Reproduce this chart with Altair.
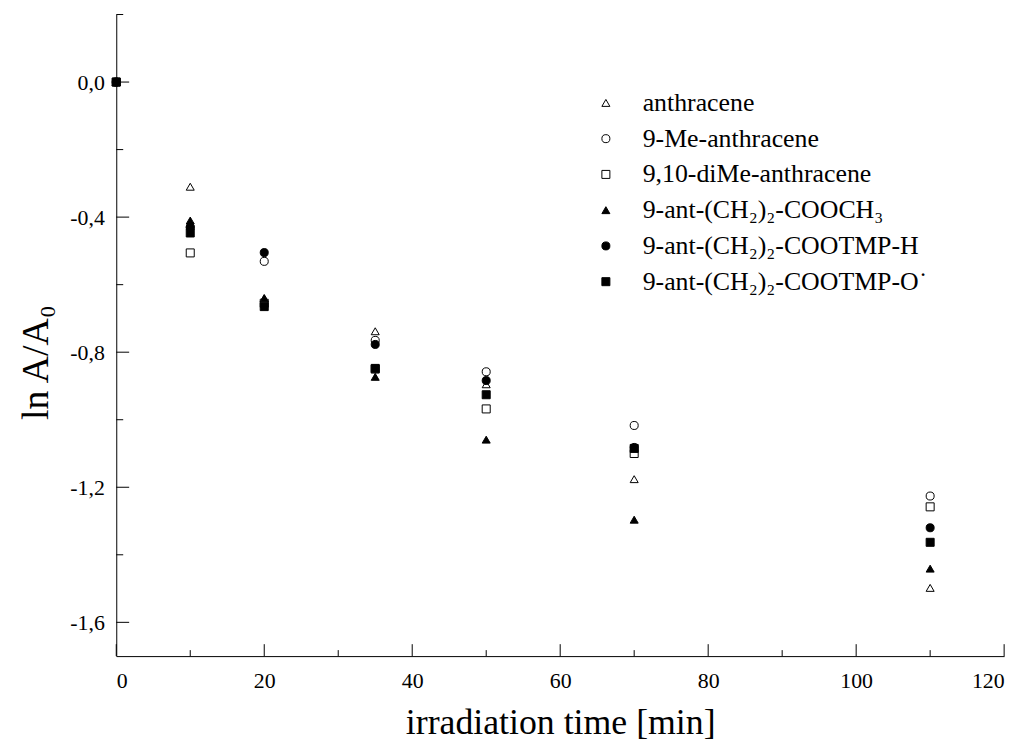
import altair as alt
import pandas as pd

times = [0, 10, 20, 35, 50, 70, 110]
compounds = [
    "anthracene",
    "9-Me-anthracene",
    "9,10-diMe-anthracene",
    "9-ant-(CH\u2082)\u2082-COOCH\u2083",
    "9-ant-(CH\u2082)\u2082-COOTMP-H",
    "9-ant-(CH\u2082)\u2082-COOTMP-O\u02d9",
]
anthracene = [0.0, -0.31, -0.64, -0.738, -0.895, -1.176, -1.498]
me_anthracene = [0.0, -0.43, -0.531, -0.765, -0.858, -1.017, -1.226]
dime_anthracene = [0.0, -0.506, -0.655, -0.85, -0.968, -1.1, -1.258]
cooch3 = [0.0, -0.41, -0.64, -0.873, -1.059, -1.296, -1.441]
cootmp_h = [0.0, -0.43, -0.505, -0.777, -0.884, -1.082, -1.32]
cootmp_o = [0.0, -0.447, -0.665, -0.848, -0.926, -1.085, -1.363]
series = [anthracene, me_anthracene, dime_anthracene, cooch3, cootmp_h, cootmp_o]

shapes = ["triangle-up", "circle", "square", "triangle-up", "circle", "square"]
fills = ["white", "white", "white", "black", "black", "black"]
strokes = ["black"] * 6

x_major = [0, 20, 40, 60, 80, 100, 120]
x_minor = [10, 30, 50, 70, 90, 110]
y_major = [0.0, -0.4, -0.8, -1.2, -1.6]
y_minor = [0.2, -0.2, -0.6, -1.0, -1.4]

rows = []
for name, vals in zip(compounds, series):
    for t, v in zip(times, vals):
        rows.append({"time": t, "compound": name, "value": v})
df = pd.DataFrame(rows)

W, H = 894, 646
FONT = "Liberation Serif"

xscale = alt.Scale(domain=[0, 120], nice=False, zero=False)
yscale = alt.Scale(domain=[-1.7, 0.2], nice=False, zero=False)

legend = alt.Legend(title=None, orient="none", legendX=480, legendY=76,
                    labelFontSize=26, labelFont=FONT, rowPadding=10, labelLimit=0,
                    symbolSize=65, labelOffset=24,
                    symbolStrokeColor="black", symbolStrokeWidth=1)

points = alt.Chart(df).mark_point(size=65, strokeWidth=1, opacity=1, fillOpacity=1).encode(
    x=alt.X("time:Q", scale=xscale,
            axis=alt.Axis(values=x_major, ticks=False, title="irradiation time [min]",
                          labelFontSize=22, titleFontSize=36, labelPadding=15,
                          titlePadding=14, grid=False, format="d")),
    y=alt.Y("value:Q", scale=yscale,
            axis=alt.Axis(values=y_major, ticks=False, title="ln A/A\u2080",
                          labelFontSize=22, titleFontSize=38, labelPadding=12,
                          titlePadding=14, titleY=350, grid=False,
                          labelExpr="(datum.value < -0.001 ? '-' : '') + replace(format(abs(datum.value), '.1f'), '.', ',')")),
    shape=alt.Shape("compound:N", scale=alt.Scale(domain=compounds, range=shapes), legend=legend),
    fill=alt.Fill("compound:N", scale=alt.Scale(domain=compounds, range=fills), legend=legend),
    stroke=alt.Stroke("compound:N", scale=alt.Scale(domain=compounds, range=strokes), legend=legend),
)

ymaj_df = pd.DataFrame({"v": y_major})
ymin_df = pd.DataFrame({"v": y_minor})
xmaj_df = pd.DataFrame({"v": x_major})
xmin_df = pd.DataFrame({"v": x_minor})

ytick_major = alt.Chart(ymaj_df).mark_rule(color="black", strokeWidth=1).encode(
    y=alt.Y("v:Q", scale=yscale), x=alt.value(0), x2=alt.value(13))
ytick_minor = alt.Chart(ymin_df).mark_rule(color="black", strokeWidth=1).encode(
    y=alt.Y("v:Q", scale=yscale), x=alt.value(0), x2=alt.value(7))
xtick_major = alt.Chart(xmaj_df).mark_rule(color="black", strokeWidth=1).encode(
    x=alt.X("v:Q", scale=xscale), y=alt.value(H), y2=alt.value(H - 12))
xtick_minor = alt.Chart(xmin_df).mark_rule(color="black", strokeWidth=1).encode(
    x=alt.X("v:Q", scale=xscale), y=alt.value(H), y2=alt.value(H - 6))

chart = alt.layer(ytick_major, ytick_minor, xtick_major, xtick_minor, points).properties(
    width=W, height=H,
    autosize=alt.AutoSizeParams(type="none"),
    padding={"left": 109, "top": 4, "right": 20, "bottom": 94},
    background="white",
).configure_view(stroke=None).configure_axis(
    labelFont=FONT, titleFont=FONT, titleFontWeight="normal",
    domainColor="black", labelColor="black", titleColor="black",
).configure_legend(labelColor="black")

chart.save("out.html", embed_options={"renderer": "svg", "actions": False})
